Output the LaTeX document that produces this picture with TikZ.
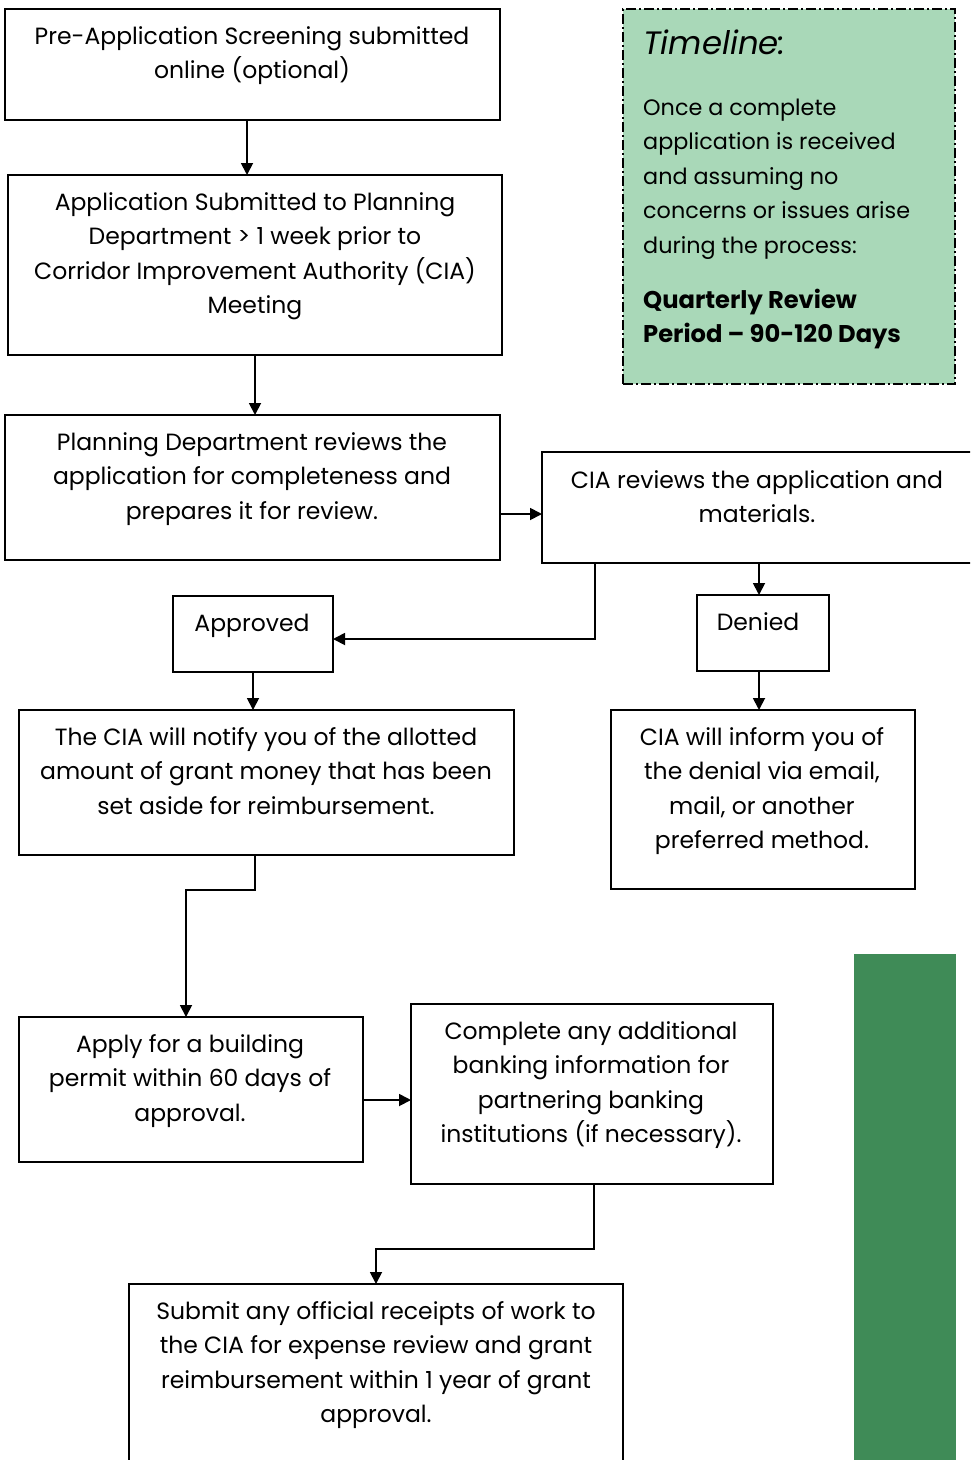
\documentclass[tikz,border=0pt]{standalone}
\usepackage{fontspec}
\setmainfont{Poppins}
\usetikzlibrary{arrows.meta}
\definecolor{tlgreen}{HTML}{A9D8B8}
\definecolor{darkgreen}{HTML}{3F8B57}
\tikzset{
 box/.style={draw=black, line width=1.8pt, anchor=north west, inner sep=0, outer sep=0},
 txt/.style={anchor=base, align=center, inner sep=0, font=\fontsize{23.5}{34.5}\selectfont},
 ltxt/.style={anchor=base west, align=left, inner sep=0, font=\fontsize{22.3}{34.5}\selectfont},
 conn/.style={line width=1.8pt, -{Triangle[length=12pt,width=12pt]}},
}
\begin{document}
\begin{tikzpicture}[x=1pt,y=-1pt]
\useasboundingbox (0,0) rectangle (970,1460);
\clip (0,0) rectangle (970,1460);
% boxes
\node[box, minimum width=495, minimum height=111] (b1) at (5,9) {};
\node[box, minimum width=494, minimum height=180] (b2) at (8,175) {};
\node[box, minimum width=495, minimum height=145] (b3) at (5,415) {};
\node[box, minimum width=450, minimum height=111] (b4) at (542,452) {};
\node[box, minimum width=160, minimum height=76] (b5) at (173,596) {};
\node[box, minimum width=132, minimum height=76] (b6) at (697,595) {};
\node[box, minimum width=495, minimum height=145] (b7) at (19,710) {};
\node[box, minimum width=304, minimum height=179] (b8) at (611,710) {};
\node[box, minimum width=344, minimum height=145] (b9) at (19,1017) {};
\node[box, minimum width=362, minimum height=180] (b10) at (411,1004) {};
\node[box, minimum width=494, minimum height=220] (b11) at (129,1284) {};
\node[box, draw=black, fill=tlgreen, line width=1.4pt, dash pattern=on 10pt off 3pt on 2pt off 3pt, minimum width=332, minimum height=375] (tl) at (623,9) {};
\node[anchor=north west, fill=darkgreen, inner sep=0, minimum width=102, minimum height=520] (gr) at (854,954) {};
% texts (anchored at the baseline of the last line)
\node[txt] (t1) at (252,78.5) {Pre-Application Screening submitted\\online (optional)};
\node[txt] (t2) at (255,313.5) {Application Submitted to Planning\\Department > 1 week prior to\\Corridor Improvement Authority (CIA)\\Meeting};
\node[txt] (t3) at (252,519) {Planning Department reviews the\\application for completeness and\\prepares it for review.};
\node[txt] (t4) at (757,522.5) {CIA reviews the application and\\materials.};
\node[txt] (t5) at (252,631) {Approved};
\node[txt] (t6) at (758,630) {Denied};
\node[txt] (t7) at (266,814) {The CIA will notify you of the allotted\\amount of grant money that has been\\set aside for reimbursement.};
\node[txt] (t8) at (762,848.5) {CIA will inform you of\\the denial via email,\\mail, or another\\preferred method.};
\node[txt] (t9) at (190,1121) {Apply for a building\\permit within 60 days of\\approval.};
\node[txt] (t10) at (591,1142.5) {Complete any additional\\banking information for\\partnering banking\\institutions (if necessary).};
\node[txt] (t11) at (376,1422.5) {Submit any official receipts of work to\\the CIA for expense review and grant\\reimbursement within 1 year of grant\\approval.};
\node[ltxt, font=\fontsize{32.4}{34.5}\selectfont\itshape] (tt) at (643,54) {Timeline:};
\node[ltxt] (tb) at (643,253) {Once a complete\\application is received\\and assuming no\\concerns or issues arise\\during the process:};
\node[ltxt, font=\fontsize{24.2}{34.5}\selectfont\bfseries] (tq) at (643,342.5) {Quarterly Review\\Period -- 90-120 Days};
% connectors
\draw[conn] ([xshift=-5.5pt]b1.south) -- ([xshift=-5.5pt]b1.south |- b2.north);
\draw[conn] (b2.south) -- (b2.south |- b3.north);
\draw[conn] ([yshift=-26.5pt]b3.east) -- ([yshift=-26.5pt]b3.east -| b4.west);
\draw[conn] ([xshift=-4pt]b6.north |- b4.south) -- ([xshift=-4pt]b6.north);
\draw[conn] ([xshift=53pt]b4.south west) |- ([yshift=-5pt]b5.east);
\draw[conn] (b5.south) -- (b5.south |- b7.north);
\draw[conn] ([xshift=-4pt]b6.south) -- ([xshift=-4pt]b6.south |- b8.north);
\draw[conn] ([xshift=-11.5pt]b7.south) -- ++(0,35) -| ([xshift=-5pt]b9.north);
\draw[conn] ([yshift=-10.5pt]b9.east) -- ([yshift=-10.5pt]b9.east -| b10.west);
\draw[conn] ([xshift=2pt]b10.south) -- ++(0,65) -| (b11.north);
\end{tikzpicture}
\end{document}
